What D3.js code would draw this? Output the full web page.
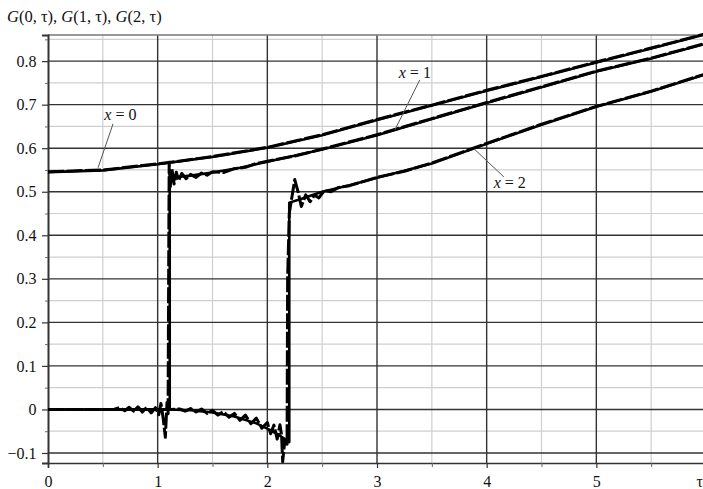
<!DOCTYPE html>
<html>
<head>
<meta charset="utf-8">
<script src="https://cdn.jsdelivr.net/npm/d3@7"></script>
<style>
  html, body { margin: 0; padding: 0; background: #fff; }
  svg { display: block; }
  text { font-family: "Liberation Serif", "DejaVu Serif", serif; fill: #111; }
</style>
</head>
<body>
<svg id="chart" width="703" height="489"></svg>
<script>
// ---------- data ----------
const xMajorTicks = [0, 1, 2, 3, 4, 5, 6];
const xTickLabels = ["0", "1", "2", "3", "4", "5", "τ"];
const xMinorTicks = [0.5, 1.5, 2.5, 3.5, 4.5, 5.5];
const yMajorTicks = [-0.1, 0, 0.1, 0.2, 0.3, 0.4, 0.5, 0.6, 0.7, 0.8];
const yTickLabels = ["−0.1", "0", "0.1", "0.2", "0.3", "0.4", "0.5", "0.6", "0.7", "0.8"];
const yMinorTicks = [-0.05, 0.05, 0.15, 0.25, 0.35, 0.45, 0.55, 0.65, 0.75, 0.85];

// exact solutions (solid)
const tauExact0 = [0, 0.5, 1, 1.5, 2, 2.5, 3, 3.5, 4, 4.5, 5, 5.5, 6];
const gExact0   = [0.545, 0.549, 0.563, 0.580, 0.601, 0.630, 0.665, 0.698, 0.732, 0.764, 0.797, 0.829, 0.862];

const tauExact1 = [0, 1.11, 1.11, 1.3, 1.5, 1.75, 2, 2.5, 3, 3.5, 4, 4.5, 5, 5.5, 6];
const gExact1   = [0, 0, 0.532, 0.537, 0.544, 0.555, 0.569, 0.597, 0.630, 0.667, 0.704, 0.740, 0.776, 0.806, 0.840];

const tauExact2 = [0, 1.1, 1.3, 1.5, 1.7, 1.9, 2.0, 2.1, 2.2, 2.2, 2.3, 2.5, 2.75, 3, 3.25, 3.5, 4, 4.5, 5, 5.5, 6];
const gExact2   = [0, 0, -0.002, -0.007, -0.016, -0.032, -0.044, -0.058, -0.075, 0.475, 0.483, 0.500, 0.515, 0.532, 0.548, 0.565, 0.610, 0.654, 0.695, 0.730, 0.770];

// numerical solutions (dashed)
const tauNum0 = [0, 0.5, 1, 1.1, 1.5, 2, 2.5, 3, 3.5, 4, 4.5, 5, 5.5, 6];
const gNum0   = [0.546, 0.550, 0.564, 0.567, 0.581, 0.602, 0.631, 0.666, 0.699, 0.733, 0.765, 0.798, 0.830, 0.863];

const tauNum1 = [0, 0.6, 0.65, 0.7, 0.74, 0.78, 0.82, 0.86, 0.9, 0.94, 0.98, 1.01, 1.03, 1.05, 1.07, 1.085, 1.095, 1.1, 1.105,
                 1.115, 1.13, 1.15, 1.17, 1.19, 1.22, 1.26, 1.3, 1.35, 1.4, 1.45, 1.5, 1.6, 1.7, 1.8, 1.9, 2.0,
                 2.25, 2.5, 3, 3.5, 4, 4.5, 5, 5.5, 6];
const gNum1   = [0, 0, 0.004, -0.003, 0.005, -0.004, 0.006, -0.006, 0.005, -0.008, 0.004, -0.012, 0.014, -0.020, -0.064, 0.016, -0.010, 0.30, 0.568,
                 0.510, 0.552, 0.518, 0.545, 0.525, 0.542, 0.530, 0.540, 0.533, 0.543, 0.538, 0.546, 0.544, 0.553, 0.556, 0.565, 0.570,
                 0.582, 0.598, 0.631, 0.668, 0.705, 0.741, 0.777, 0.807, 0.841];

const tauNum2 = [0, 1.12, 1.2, 1.25, 1.3, 1.35, 1.4, 1.45, 1.5, 1.55, 1.6, 1.65, 1.7, 1.75, 1.8, 1.85, 1.9, 1.95, 2.0, 2.03, 2.06, 2.09,
                 2.115, 2.13, 2.14, 2.16, 2.18, 2.185, 2.2, 2.25, 2.28, 2.31, 2.35, 2.39, 2.43, 2.47, 2.52, 2.58, 2.65, 2.75,
                 3, 3.25, 3.5, 4, 4.5, 5, 5.5, 6];
const gNum2   = [0, 0, 0.001, -0.004, 0.002, -0.006, 0.001, -0.009, -0.002, -0.013, -0.005, -0.018, -0.009, -0.025, -0.013, -0.033, -0.020, -0.043, -0.030, -0.056, -0.036, -0.068,
                 -0.035, -0.060, -0.120, -0.070, -0.080, 0.30, 0.450, 0.528, 0.500, 0.466, 0.493, 0.477, 0.492, 0.486, 0.503, 0.500, 0.510, 0.514,
                 0.533, 0.547, 0.566, 0.611, 0.655, 0.696, 0.731, 0.771];

// annotations (data coordinates)
const labelText  = ["0", "1", "2"];
const labelTau   = [0.66, 3.345, 4.21];
const labelG     = [0.665, 0.761, 0.509];
const leaderTau1 = [0.593, 3.39, 3.883];
const leaderG1   = [0.656, 0.757, 0.599];
const leaderTau2 = [0.456, 3.163, 4.157];
const leaderG2   = [0.555, 0.642, 0.534];

// ---------- layout ----------
const svg = d3.select("#chart");
const pLeft = 48, pRight = 706, pTop = 35, pBottom = 463;
const x = d3.scaleLinear().domain([0, 6]).range([pLeft, pRight]);
const y = d3.scaleLinear().domain([-0.123, 0.86]).range([pBottom, pTop]);

const grid = svg.append("g");
// minor grid
grid.selectAll("line.vminor").data(xMinorTicks).enter().append("line")
  .attr("x1", d => x(d)).attr("x2", d => x(d)).attr("y1", pTop).attr("y2", pBottom)
  .attr("stroke", "#cfcfcf").attr("stroke-width", 1.2);
grid.selectAll("line.hminor").data(yMinorTicks).enter().append("line")
  .attr("x1", pLeft).attr("x2", pRight).attr("y1", d => y(d)).attr("y2", d => y(d))
  .attr("stroke", "#cfcfcf").attr("stroke-width", 1.2);
// major grid
grid.selectAll("line.vmajor").data(xMajorTicks.slice(1, 6)).enter().append("line")
  .attr("x1", d => x(d)).attr("x2", d => x(d)).attr("y1", pTop).attr("y2", pBottom)
  .attr("stroke", "#333").attr("stroke-width", 1.4);
grid.selectAll("line.hmajor").data(yMajorTicks).enter().append("line")
  .attr("x1", pLeft).attr("x2", pRight).attr("y1", d => y(d)).attr("y2", d => y(d))
  .attr("stroke", "#333").attr("stroke-width", 1.4);
// top border
grid.append("line").attr("x1", pLeft).attr("x2", pRight).attr("y1", pTop).attr("y2", pTop)
  .attr("stroke", "#777").attr("stroke-width", 1.3);

// axes
const xAxis = d3.axisBottom(x).tickValues(xMajorTicks).tickSize(5)
  .tickFormat((d, i) => xTickLabels[i]);
const gx = svg.append("g").attr("transform", `translate(0,${pBottom})`).call(xAxis);
gx.select(".domain").attr("stroke", "#333").attr("stroke-width", 1.6);
gx.selectAll(".tick line").attr("stroke", "#333").attr("stroke-width", 1.2);
gx.selectAll(".tick text").attr("font-size", 16).attr("font-family", "Liberation Serif")
  .attr("dy", "1.0em").attr("fill", "#111");
// keep the last label (τ) inside the window, as in the reference where it sits at the edge
gx.selectAll(".tick text").filter((d, i) => i === xMajorTicks.length - 1)
  .attr("text-anchor", "end").attr("dx", -0.5 - (x(6) - 703));
svg.append("g").attr("transform", `translate(0,${pBottom})`)
  .call(d3.axisBottom(x).tickValues(xMinorTicks).tickSize(4).tickFormat(""))
  .call(g => g.select(".domain").remove())
  .selectAll(".tick line").attr("stroke", "#666");

const yAxis = d3.axisLeft(y).tickValues(yMajorTicks).tickSize(6)
  .tickFormat((d, i) => yTickLabels[i]);
const gy = svg.append("g").attr("transform", `translate(${pLeft},0)`).call(yAxis);
gy.select(".domain").attr("stroke", "#333").attr("stroke-width", 2);
gy.selectAll(".tick line").attr("stroke", "#333").attr("stroke-width", 1.2);
gy.selectAll(".tick text").attr("font-size", 16).attr("font-family", "Liberation Serif")
  .attr("dx", "-0.15em").attr("fill", "#111");
svg.append("g").attr("transform", `translate(${pLeft},0)`)
  .call(d3.axisLeft(y).tickValues(yMinorTicks).tickSize(3).tickFormat(""))
  .call(g => g.select(".domain").remove())
  .selectAll(".tick line").attr("stroke", "#666");

// clip
svg.append("clipPath").attr("id", "plotclip").append("rect")
  .attr("x", pLeft).attr("y", pTop - 2).attr("width", pRight - pLeft).attr("height", pBottom - pTop + 2);

const line = d3.line().x(d => x(d[0])).y(d => y(d[1]));
const zip = (a, b) => a.map((t, i) => [t, b[i]]);
const curves = svg.append("g").attr("clip-path", "url(#plotclip)");

const exact = [[tauExact0, gExact0], [tauExact1, gExact1], [tauExact2, gExact2]];
const numer = [[tauNum0, gNum0], [tauNum1, gNum1], [tauNum2, gNum2]];

exact.forEach(([t, g]) => {
  curves.append("path").attr("d", line(zip(t, g)))
    .attr("fill", "none").attr("stroke", "#000").attr("stroke-width", 2.6)
    .attr("stroke-linejoin", "round");
});
numer.forEach(([t, g]) => {
  curves.append("path").attr("d", line(zip(t, g)))
    .attr("fill", "none").attr("stroke", "#000").attr("stroke-width", 3)
    .attr("stroke-dasharray", "16,2.5").attr("stroke-linejoin", "round");
});

// annotations
labelText.forEach((s, i) => {
  svg.append("line")
    .attr("x1", x(leaderTau1[i])).attr("y1", y(leaderG1[i]))
    .attr("x2", x(leaderTau2[i])).attr("y2", y(leaderG2[i]))
    .attr("stroke", "#555").attr("stroke-width", 1);
  const t = svg.append("text").attr("x", x(labelTau[i])).attr("y", y(labelG[i]))
    .attr("text-anchor", "middle").attr("font-size", 16);
  t.append("tspan").attr("font-style", "italic").text("x");
  t.append("tspan").text(" = " + s);
});

// title
const title = svg.append("text").attr("x", 7).attr("y", 22).attr("font-size", 16.5);
["0", "1", "2"].forEach((k, i) => {
  title.append("tspan").attr("font-style", "italic").text("G");
  title.append("tspan").text("(" + k + ", τ)" + (i < 2 ? ", " : ""));
});
</script>
</body>
</html>
